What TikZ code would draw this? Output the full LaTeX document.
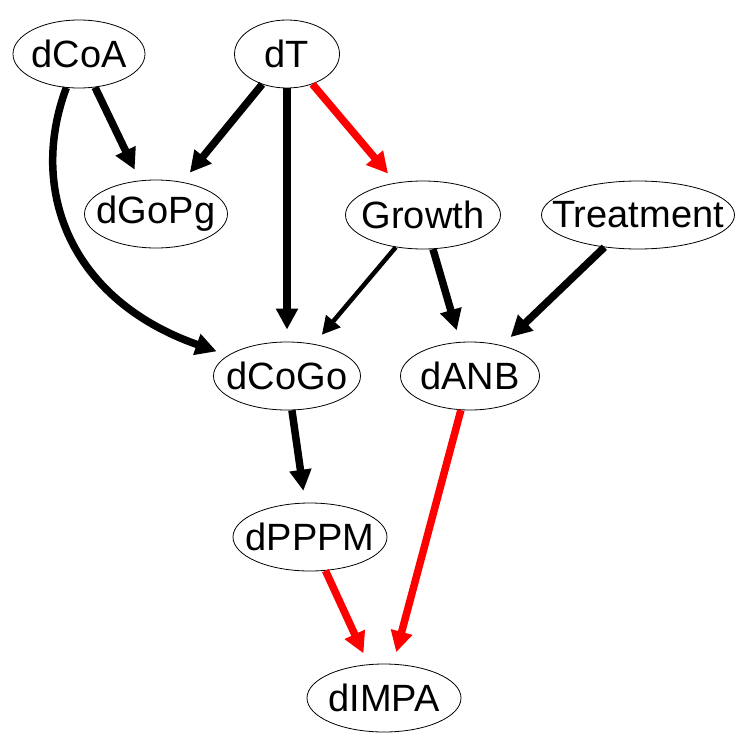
\documentclass[tikz,border=0pt]{standalone}
\usepackage{fontspec}
\setmainfont{Liberation Sans}
\usetikzlibrary{shapes.geometric,arrows.meta}

\tikzset{
  var/.style={ellipse, draw=black, line width=0.8bp, inner sep=0pt, minimum height=68bp,
    font=\fontsize{38bp}{45bp}\selectfont},
  edge/.style={-{Triangle[length=21bp,width=21bp]}, line width=7.5bp, shorten >=12bp}
}
\newcommand{\vlabel}[1]{\makebox[0pt]{#1}}

\begin{document}
\begin{tikzpicture}[x=1bp,y=1bp]
\fill[color=white] (0.000000,-753.000000) rectangle (753.000000,0.000000);
% Drawing nodes
% Row 1: dCoA, dT
\node[var, minimum width=132bp] (dCoA) at (79.000000,-54.000000) {\vlabel{dCoA}};
\node[var, minimum width=105bp] (dT) at (287.000000,-54.000000) {\vlabel{dT}};
% Row 2: dGoPg, Growth, Treatment
\node[var, minimum width=143bp] (dGoPg) at (156.000000,-214.000000) {\vlabel{dGoPg}};
\node[var, minimum width=155bp] (Growth) at (423.000000,-215.000000) {\vlabel{Growth}};
\node[var, minimum width=193bp] (Treatment) at (638.000000,-215.000000) {\vlabel{Treatment}};
% Row 3: dCoGo, dANB
\node[var, minimum width=147bp] (dCoGo) at (287.000000,-376.000000) {\vlabel{dCoGo}};
\node[var, minimum width=139bp] (dANB) at (470.000000,-376.000000) {\vlabel{dANB}};
% Row 4 and 5: dPPPM, dIMPA
\node[var, minimum width=154bp] (dPPPM) at (310.000000,-537.000000) {\vlabel{dPPPM}};
\node[var, minimum width=154bp] (dIMPA) at (384.000000,-698.000000) {\vlabel{dIMPA}};
% Done with nodes; drawing edges
\draw[edge] (dCoA) -- (dGoPg);
\draw[edge] (dCoA) .. controls (28.000000,-190.000000) and (70.000000,-300.000000) .. (dCoGo);
\draw[edge] (dT) -- (dGoPg);
\draw[edge] (dT) -- (dCoGo);
\draw[edge, color=red] (dT) -- (Growth);
\draw[edge, line width=4.5bp, -{Triangle[length=18bp,width=18bp]}] (Growth) -- (dCoGo);
\draw[edge] (Growth) -- (dANB);
\draw[edge] (Treatment) -- (dANB);
\draw[edge] (dCoGo) -- (dPPPM);
\draw[edge, color=red] (dANB) -- (dIMPA);
\draw[edge, color=red] (dPPPM) -- (dIMPA);
% Done with edges
\end{tikzpicture}
\end{document}
